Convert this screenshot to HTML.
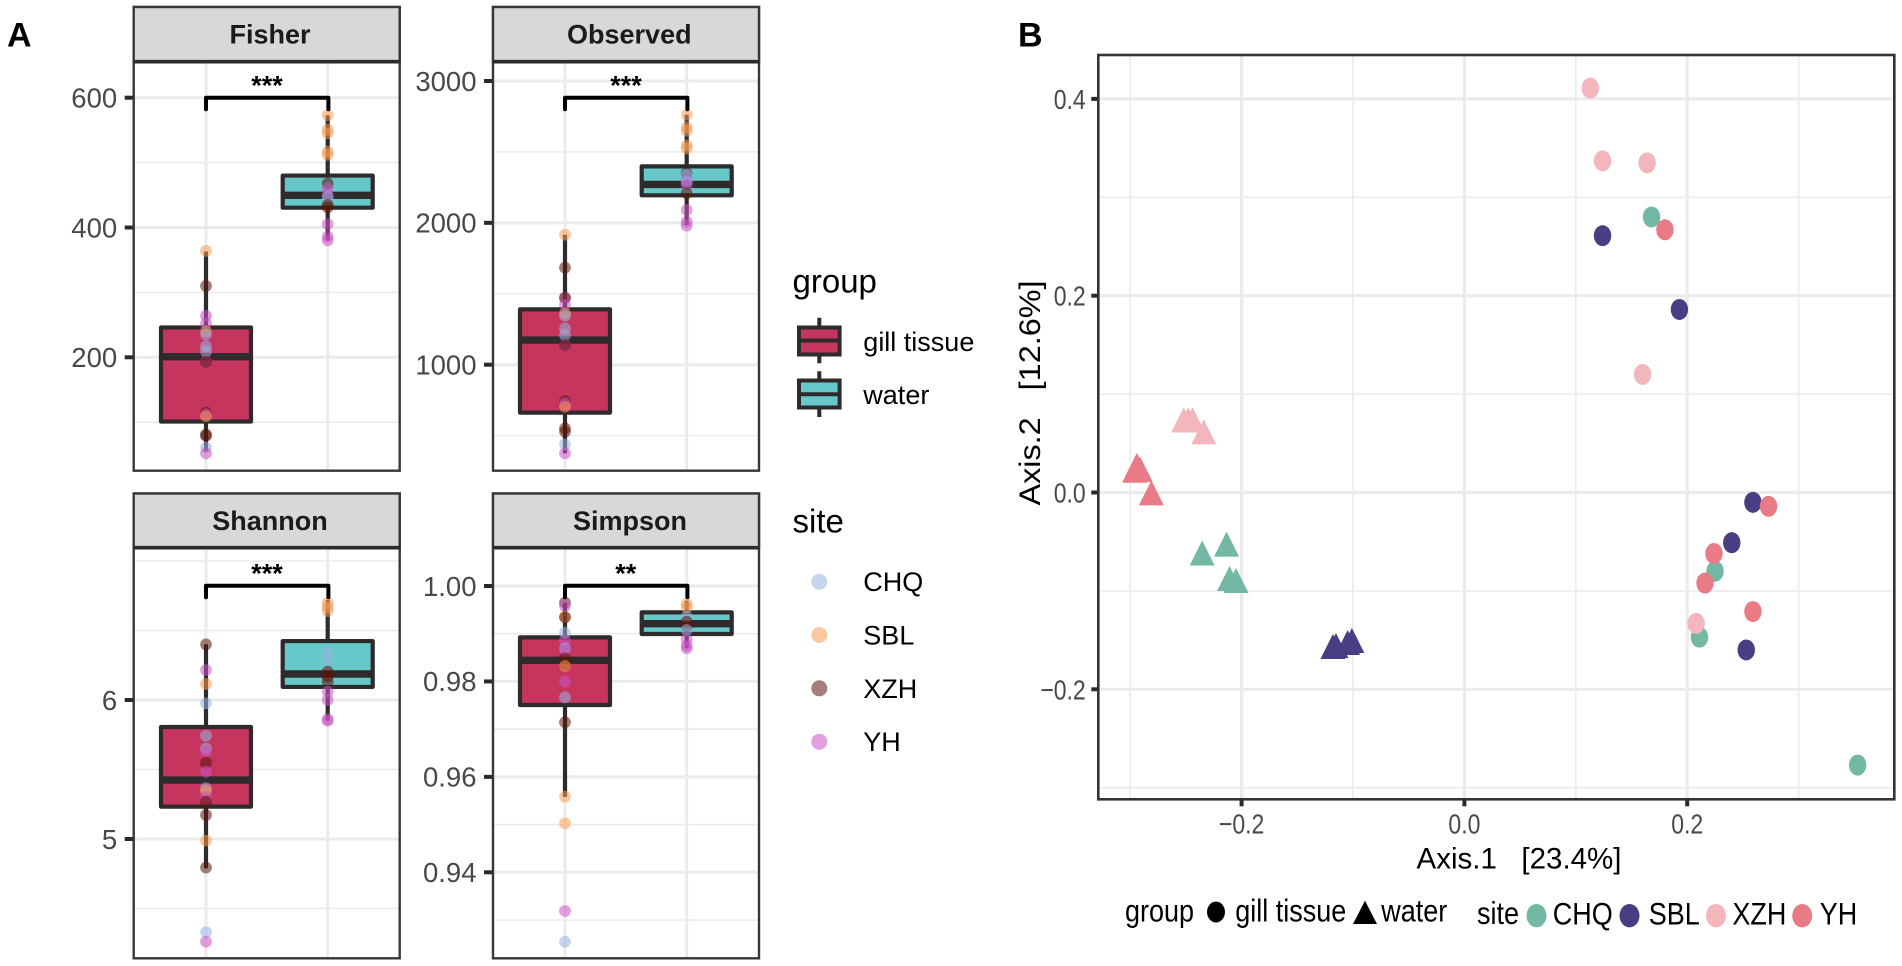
<!DOCTYPE html>
<html lang="en">
<head>
<meta charset="utf-8">
<title>Alpha diversity and PCoA</title>
<style>
html,body{margin:0;padding:0;background:#fff;}
svg{display:block;font-family:"Liberation Sans",sans-serif;}
text{white-space:pre;}
.tick{font-size:27.5px;fill:#4a4747;}
.strip{font-size:27px;font-weight:bold;fill:#1c1a1a;text-anchor:middle;}
.btick{font-size:23px;fill:#4a4747;}
.leg{font-size:27px;fill:#000;}
.ltitle{font-size:33px;fill:#000;}
</style>
</head>
<body>
<svg id="figure" xmlns="http://www.w3.org/2000/svg" width="1902" height="966" viewBox="0 0 1902 966">
  <rect x="0" y="0" width="1902" height="966" fill="#fff"/>
  <text x="7" y="46.7" font-size="34" font-weight="bold" fill="#000">A</text>
  <text x="1018" y="46.7" font-size="34" font-weight="bold" fill="#000">B</text>

  <g id="fisher"></g>
  <g id="observed"></g>
  <g id="shannon"></g>
  <g id="simpson"></g>
  <g id="pcoa"></g>

  <g>
    <text class="ltitle" x="792.5" y="292.7">group</text>
    <g>
      <line x1="819.3" x2="819.3" y1="317.7" y2="363.3" stroke="#2f2a2b" stroke-width="4"/>
      <rect x="799" y="327.5" width="40.6" height="27" fill="#c5355e" stroke="#2f2a2b" stroke-width="4"/>
      <line x1="799" x2="839.6" y1="340.5" y2="340.5" stroke="#2f2a2b" stroke-width="4"/>
    </g>
    <text class="leg" x="863.3" y="351">gill tissue</text>
    <g>
      <line x1="819.3" x2="819.3" y1="371.3" y2="417" stroke="#2f2a2b" stroke-width="4"/>
      <rect x="799" y="380.5" width="40.6" height="27" fill="#66c8c9" stroke="#2f2a2b" stroke-width="4"/>
      <line x1="799" x2="839.6" y1="394.3" y2="394.3" stroke="#2f2a2b" stroke-width="4"/>
    </g>
    <text class="leg" x="863.3" y="404">water</text>
  </g>

  <g>
    <text class="ltitle" x="792.5" y="532.7">site</text>
    <circle cx="819.3" cy="581.7" r="8" fill="#96b3e0" fill-opacity="0.55"/>
    <text class="leg" x="863.3" y="591">CHQ</text>
    <circle cx="819.3" cy="635" r="8" fill="#f89b52" fill-opacity="0.55"/>
    <text class="leg" x="863.3" y="644.5">SBL</text>
    <circle cx="819.3" cy="688.3" r="8" fill="#5b1608" fill-opacity="0.55"/>
    <text class="leg" x="863.3" y="698">XZH</text>
    <circle cx="819.3" cy="741.7" r="8" fill="#ca52c6" fill-opacity="0.55"/>
    <text class="leg" x="863.3" y="751">YH</text>
  </g>

  <text transform="translate(1040,393) rotate(-90) scale(1.08,1)" font-size="30" fill="#000" text-anchor="middle">Axis.2   [12.6%]</text>
  <text x="1519" y="868.3" font-size="29.5" fill="#000" text-anchor="middle">Axis.1   [23.4%]</text>

  <g>
    <text class="leg" transform="translate(1125,921.7) scale(1,1.15)">group</text>
    <ellipse cx="1216" cy="912" rx="9" ry="10.5" fill="#000"/>
    <text class="leg" transform="translate(1235.3,921.7) scale(1,1.15)">gill tissue</text>
    <polygon points="1365,900.7 1377,924 1353,924" fill="#000"/>
    <text class="leg" transform="translate(1381.3,921.7) scale(1,1.15)">water</text>
    <text class="leg" transform="translate(1477,924) scale(1,1.15)">site</text>
    <ellipse cx="1536.5" cy="915.7" rx="10" ry="11.7" fill="#72b8a5"/>
    <text class="leg" transform="translate(1552.8,924.5) scale(1,1.15)">CHQ</text>
    <ellipse cx="1629.5" cy="915.7" rx="10" ry="11.7" fill="#4a3d83"/>
    <text class="leg" transform="translate(1648.7,924.5) scale(1,1.15)">SBL</text>
    <ellipse cx="1716" cy="915.7" rx="10" ry="11.7" fill="#f3b6bd"/>
    <text class="leg" transform="translate(1732.4,924.5) scale(1,1.15)">XZH</text>
    <ellipse cx="1802.2" cy="915.7" rx="10" ry="11.7" fill="#e87b85"/>
    <text class="leg" transform="translate(1819.7,924.5) scale(1,1.15)">YH</text>
  </g>
</svg>

<script>
/* ---------- Fisher ---------- */
const fisherTicks = [200, 400, 600];
const fisherMinor = [100, 300, 500];
const fisherTickLabels = ['200', '400', '600'];
const fisherGillBox = [55, 101, 201, 246, 363];
const fisherWaterBox = [380, 430.5, 449.6, 480, 573];
const fisherGillValues = [364, 310, 264, 252, 240, 235, 217, 209, 194, 193, 115, 112, 109, 81, 79, 61, 52];
const fisherGillSites = ['SBL', 'XZH', 'YH', 'YH', 'SBL', 'CHQ', 'CHQ', 'CHQ', 'YH', 'XZH', 'XZH', 'YH', 'SBL', 'XZH', 'XZH', 'CHQ', 'YH'];
const fisherWaterValues = [573, 551, 545, 517, 512, 468, 460, 450, 447, 435, 431, 405, 386, 380];
const fisherWaterSites = ['SBL', 'SBL', 'SBL', 'SBL', 'SBL', 'XZH', 'YH', 'YH', 'CHQ', 'XZH', 'XZH', 'YH', 'YH', 'YH'];

/* ---------- Observed ---------- */
const observedTicks = [1000, 2000, 3000];
const observedMinor = [500, 1500, 2500];
const observedTickLabels = ['1000', '2000', '3000'];
const observedGillBox = [375, 662, 1174, 1390, 1916];
const observedWaterBox = [1985, 2194, 2271, 2398, 2762];
const observedGillValues = [1916, 1684, 1472, 1472, 1421, 1362, 1345, 1256, 1209, 1139, 1139, 744, 727, 704, 551, 528, 438, 375];
const observedGillSites = ['SBL', 'XZH', 'YH', 'XZH', 'YH', 'SBL', 'CHQ', 'CHQ', 'CHQ', 'YH', 'XZH', 'XZH', 'YH', 'SBL', 'XZH', 'XZH', 'CHQ', 'YH'];
const observedWaterValues = [2763, 2673, 2650, 2546, 2525, 2349, 2337, 2302, 2290, 2267, 2208, 2090, 2008, 1980];
const observedWaterSites = ['SBL', 'SBL', 'SBL', 'SBL', 'SBL', 'XZH', 'CHQ', 'YH', 'CHQ', 'YH', 'XZH', 'YH', 'YH', 'YH'];

/* ---------- Shannon ---------- */
const shannonTicks = [5, 6];
const shannonMinor = [4.5, 5.5, 6.5, 7];
const shannonTickLabels = ['5', '6'];
const shannonGillBox = [4.79, 5.233, 5.424, 5.806, 6.4];
const shannonWaterBox = [5.851, 6.094, 6.187, 6.424, 6.72];
const shannonGillValues = [6.4, 6.216, 6.115, 5.976, 5.743, 5.652, 5.63, 5.549, 5.484, 5.365, 5.345, 5.3, 5.269, 5.173, 4.988, 4.794, 4.329, 4.261];
const shannonGillSites = ['XZH', 'YH', 'SBL', 'CHQ', 'CHQ', 'CHQ', 'YH', 'XZH', 'YH', 'CHQ', 'SBL', 'YH', 'XZH', 'XZH', 'SBL', 'XZH', 'CHQ', 'YH'];
const shannonWaterValues = [6.7, 6.67, 6.64, 6.348, 6.288, 6.204, 6.168, 6.132, 6.06, 6, 5.861, 5.851];
const shannonWaterSites = ['SBL', 'SBL', 'SBL', 'CHQ', 'CHQ', 'XZH', 'XZH', 'XZH', 'YH', 'YH', 'YH', 'YH'];

/* ---------- Simpson ---------- */
const simpsonTicks = [0.94, 0.96, 0.98, 1];
const simpsonMinor = [0.93, 0.95, 0.97, 0.99];
const simpsonTickLabels = ['0.94', '0.96', '0.98', '1.00'];
const simpsonGillBox = [0.9558, 0.97506, 0.98442, 0.98924, 0.9965];
const simpsonWaterBox = [0.98694, 0.98994, 0.99211, 0.99448, 0.9969];
const simpsonGillValues = [0.9965, 0.9958, 0.99357, 0.99343, 0.99022, 0.98854, 0.98694, 0.98659, 0.98484, 0.98358, 0.98323, 0.97995, 0.97667, 0.97143, 0.95585, 0.95026, 0.93189, 0.92546];
const simpsonGillSites = ['XZH', 'YH', 'SBL', 'XZH', 'CHQ', 'YH', 'CHQ', 'YH', 'XZH', 'XZH', 'SBL', 'YH', 'CHQ', 'XZH', 'SBL', 'SBL', 'YH', 'CHQ'];
const simpsonWaterValues = [0.99623, 0.99553, 0.99357, 0.99252, 0.99148, 0.99078, 0.98882, 0.9875, 0.98694];
const simpsonWaterSites = ['SBL', 'SBL', 'CHQ', 'XZH', 'XZH', 'CHQ', 'YH', 'YH', 'YH'];

/* ---------- PCoA ---------- */
const pcoaXTicks = [-0.2, 0, 0.2];
const pcoaXMinor = [-0.3, -0.1, 0.1, 0.3];
const pcoaXTickLabels = ['\u22120.2', '0.0', '0.2'];
const pcoaYTicks = [-0.2, 0, 0.2, 0.4];
const pcoaYMinor = [-0.3, -0.1, 0.1, 0.3];
const pcoaYTickLabels = ['\u22120.2', '0.0', '0.2', '0.4'];
const gillAxis1 = [0.168, 0.225, 0.211, 0.353, 0.124, 0.193, 0.259, 0.24, 0.253, 0.113, 0.124, 0.164, 0.16, 0.208, 0.18, 0.273, 0.224, 0.216, 0.259];
const gillAxis2 = [0.28, -0.08, -0.147, -0.277, 0.261, 0.186, -0.01, -0.051, -0.16, 0.411, 0.337, 0.335, 0.12, -0.133, 0.267, -0.014, -0.062, -0.092, -0.121];
const gillSites = ['CHQ', 'CHQ', 'CHQ', 'CHQ', 'SBL', 'SBL', 'SBL', 'SBL', 'SBL', 'XZH', 'XZH', 'XZH', 'XZH', 'XZH', 'YH', 'YH', 'YH', 'YH', 'YH'];
const waterAxis1 = [-0.2135, -0.2354, -0.2108, -0.205, -0.118, -0.1153, -0.1048, -0.101, -0.252, -0.248, -0.244, -0.234, -0.294, -0.291, -0.296, -0.281];
const waterAxis2 = [-0.056, -0.065, -0.091, -0.093, -0.16, -0.159, -0.156, -0.154, 0.0703, 0.0703, 0.0703, 0.058, 0.024, 0.02, 0.019, -0.004];
const waterSites = ['CHQ', 'CHQ', 'CHQ', 'CHQ', 'SBL', 'SBL', 'SBL', 'SBL', 'XZH', 'XZH', 'XZH', 'XZH', 'YH', 'YH', 'YH', 'YH'];

const NS = 'http://www.w3.org/2000/svg';
const DOT_COLORS = {CHQ: '#96b3e0', SBL: '#f89b52', XZH: '#5b1608', YH: '#ca52c6'};
const PCOA_COLORS = {CHQ: '#72b8a5', SBL: '#4a3d83', XZH: '#f3b6bd', YH: '#e87b85'};
const INK = '#2f2a2b';
const GRID = '#ebebeb';

function linear(d0, r0, d1, r1) {
  return function (v) { return r0 + (v - d0) * (r1 - r0) / (d1 - d0); };
}
function svgEl(tag, attrs) {
  const el = document.createElementNS(NS, tag);
  for (const k in attrs) el.setAttribute(k, attrs[k]);
  return el;
}

function drawFacet(o) {
  const root = document.getElementById(o.id);
  const y = linear(o.d0, o.r0, o.d1, o.r1);
  const bg = svgEl('rect', {x: o.left, y: o.stripBottom, width: o.right - o.left, height: o.bottom - o.stripBottom, fill: '#fff'});
  
  
  root.appendChild(bg);

  o.minor.forEach(function (v) {
    const g = svgEl('line', {x1: o.left, x2: o.right, y1: y(v), y2: y(v), stroke: GRID, 'stroke-width': 1.6});
    
    
    root.appendChild(g);
  });
  o.ticks.forEach(function (v, i) {
    const g = svgEl('line', {x1: o.left, x2: o.right, y1: y(v), y2: y(v), stroke: GRID, 'stroke-width': 3});
    
    
    root.appendChild(g);
    const t = svgEl('line', {x1: o.left - 9, x2: o.left, y1: y(v), y2: y(v), stroke: '#2b2828', 'stroke-width': 4});
    
    
    root.appendChild(t);
    const lab = svgEl('text', {x: o.left - 16.5, y: y(v) + 9.8, 'text-anchor': 'end', class: 'tick'});
    lab.textContent = o.labels[i];
    
    
    root.appendChild(lab);
  });
  [o.x1, o.x2].forEach(function (cx) {
    const g = svgEl('line', {x1: cx, x2: cx, y1: o.stripBottom, y2: o.bottom, stroke: GRID, 'stroke-width': 3});
    
    
    root.appendChild(g);
  });

  function box(stats, cx, fill, nm) {
    const whisk = svgEl('line', {x1: cx, x2: cx, y1: y(stats[0]), y2: y(stats[4]), stroke: INK, 'stroke-width': 4.2});
    
    
    root.appendChild(whisk);
    const r = svgEl('rect', {x: cx - 45, y: y(stats[3]), width: 90, height: y(stats[1]) - y(stats[3]), fill: fill, stroke: INK, 'stroke-width': 4.2, 'stroke-linejoin': 'round'});
    
    
    root.appendChild(r);
    const m = svgEl('line', {x1: cx - 45, x2: cx + 45, y1: y(stats[2]), y2: y(stats[2]), stroke: INK, 'stroke-width': 7.4});
    
    
    root.appendChild(m);
  }
  box(o.gillBox, o.x1, '#c5355e', 'gill-tissue');
  box(o.waterBox, o.x2, '#66c8c9', 'water');

  function dots(values, sites, cx) {
    values.forEach(function (v, i) {
      const c = svgEl('circle', {cx: cx, cy: y(v), r: 5.9, fill: DOT_COLORS[sites[i]], 'fill-opacity': 0.55});
      
      
      root.appendChild(c);
    });
  }
  dots(o.gillValues, o.gillSites, o.x1);
  dots(o.waterValues, o.waterSites, o.x2);

  const frame = svgEl('rect', {x: o.left, y: o.top, width: o.right - o.left, height: o.bottom - o.top, fill: 'none', stroke: '#3a3636', 'stroke-width': 2.4});
  
  
  root.appendChild(frame);
  const strip = svgEl('rect', {x: o.left, y: o.top, width: o.right - o.left, height: o.stripBottom - o.top, fill: '#d8d8da', stroke: '#3a3636', 'stroke-width': 2.4});
  
  
  root.appendChild(strip);
  const sep = svgEl('line', {x1: o.left, x2: o.right, y1: o.stripBottom, y2: o.stripBottom, stroke: '#2f2a2b', 'stroke-width': 3.6});
  
  
  root.appendChild(sep);
  const st = svgEl('text', {x: o.titleX, y: o.top + 36.5, class: 'strip'});
  st.textContent = o.title;
  
  
  root.appendChild(st);

  const br = svgEl('path', {d: 'M' + o.x1 + ' ' + (o.bracketY + 11.5) + 'V' + o.bracketY + 'H' + (o.x2 + 0.7) + 'V' + (o.bracketY + 11.5), fill: 'none', stroke: '#000', 'stroke-width': 4, 'stroke-linejoin': 'round', 'stroke-linecap': 'round'});
  
  
  root.appendChild(br);
  const star = svgEl('text', {x: o.starX, y: o.bracketY - 3, 'text-anchor': 'middle', 'font-size': 27, 'font-weight': 'bold', fill: '#000'});
  star.textContent = o.stars;
  
  
  root.appendChild(star);
}

drawFacet({id: 'fisher', title: 'Fisher', left: 133.7, right: 399.7, top: 7, stripBottom: 61.7, bottom: 470.7, x1: 206, x2: 327.7, titleX: 270, starX: 267, bracketY: 97.7, stars: '***',
  d0: 200, r0: 357.3, d1: 600, r1: 97.7, ticks: fisherTicks, minor: fisherMinor, labels: fisherTickLabels,
  gillBox: fisherGillBox, waterBox: fisherWaterBox, gillValues: fisherGillValues, gillSites: fisherGillSites, waterValues: fisherWaterValues, waterSites: fisherWaterSites});
drawFacet({id: 'observed', title: 'Observed', left: 493, right: 759, top: 7, stripBottom: 61.7, bottom: 470.7, x1: 565, x2: 686.7, titleX: 629.3, starX: 626, bracketY: 97.7, stars: '***',
  d0: 1000, r0: 364.7, d1: 3000, r1: 81, ticks: observedTicks, minor: observedMinor, labels: observedTickLabels,
  gillBox: observedGillBox, waterBox: observedWaterBox, gillValues: observedGillValues, gillSites: observedGillSites, waterValues: observedWaterValues, waterSites: observedWaterSites});
drawFacet({id: 'shannon', title: 'Shannon', left: 133.7, right: 399.7, top: 493.5, stripBottom: 547.7, bottom: 958.3, x1: 206, x2: 327.7, titleX: 270, starX: 267, bracketY: 585.7, stars: '***',
  d0: 5, r0: 839, d1: 6, r1: 700, ticks: shannonTicks, minor: shannonMinor, labels: shannonTickLabels,
  gillBox: shannonGillBox, waterBox: shannonWaterBox, gillValues: shannonGillValues, gillSites: shannonGillSites, waterValues: shannonWaterValues, waterSites: shannonWaterSites});
drawFacet({id: 'simpson', title: 'Simpson', left: 493, right: 759, top: 493.5, stripBottom: 547.7, bottom: 958.3, x1: 565, x2: 686.7, titleX: 630, starX: 625.7, bracketY: 585.7, stars: '**',
  d0: 0.94, r0: 872.3, d1: 1, r1: 586, ticks: simpsonTicks, minor: simpsonMinor, labels: simpsonTickLabels,
  gillBox: simpsonGillBox, waterBox: simpsonWaterBox, gillValues: simpsonGillValues, gillSites: simpsonGillSites, waterValues: simpsonWaterValues, waterSites: simpsonWaterSites});

/* ---------- PCoA drawing ---------- */
(function () {
  const root = document.getElementById('pcoa');
  const L = 1098.3, R = 1894.3, T = 55, B = 799.3;
  const x = linear(0, 1464.4, 0.1, 1575.8);
  const y = linear(0, 492.5, 0.2, 295.7);

  pcoaYMinor.forEach(function (v) {
    const g = svgEl('line', {x1: L, x2: R, y1: y(v), y2: y(v), stroke: GRID, 'stroke-width': 1.6});
    
    
    root.appendChild(g);
  });
  pcoaXMinor.forEach(function (v) {
    const g = svgEl('line', {x1: x(v), x2: x(v), y1: T, y2: B, stroke: GRID, 'stroke-width': 1.6});
    
    
    root.appendChild(g);
  });
  pcoaYTicks.forEach(function (v, i) {
    const g = svgEl('line', {x1: L, x2: R, y1: y(v), y2: y(v), stroke: GRID, 'stroke-width': 3.2});
    
    
    root.appendChild(g);
    const t = svgEl('line', {x1: L - 7, x2: L, y1: y(v), y2: y(v), stroke: '#2b2828', 'stroke-width': 4});
    
    
    root.appendChild(t);
    const lab = svgEl('text', {transform: 'translate(' + (L - 12.6) + ',' + (y(v) + 10) + ') scale(1,1.22)', 'text-anchor': 'end', class: 'btick'});
    lab.textContent = pcoaYTickLabels[i];
    
    
    root.appendChild(lab);
  });
  pcoaXTicks.forEach(function (v, i) {
    const g = svgEl('line', {x1: x(v), x2: x(v), y1: T, y2: B, stroke: GRID, 'stroke-width': 3.2});
    
    
    root.appendChild(g);
    const t = svgEl('line', {x1: x(v), x2: x(v), y1: B, y2: B + 7, stroke: '#2b2828', 'stroke-width': 4});
    
    
    root.appendChild(t);
    const lab = svgEl('text', {transform: 'translate(' + x(v) + ',833.3) scale(1,1.22)', 'text-anchor': 'middle', class: 'btick'});
    lab.textContent = pcoaXTickLabels[i];
    
    
    root.appendChild(lab);
  });

  gillAxis1.forEach(function (v, i) {
    const e = svgEl('ellipse', {cx: x(v), cy: y(gillAxis2[i]), rx: 8.7, ry: 10.5, fill: PCOA_COLORS[gillSites[i]]});
    
    
    root.appendChild(e);
  });
  waterAxis1.forEach(function (v, i) {
    const cx = x(v), cy = y(waterAxis2[i]);
    const p = svgEl('polygon', {points: cx + ',' + (cy - 16) + ' ' + (cx + 12.5) + ',' + (cy + 9) + ' ' + (cx - 12.5) + ',' + (cy + 9), fill: PCOA_COLORS[waterSites[i]]});
    
    
    root.appendChild(p);
  });

  const frame = svgEl('rect', {x: L, y: T, width: R - L, height: B - T, fill: 'none', stroke: '#333', 'stroke-width': 2.6});
  
  
  root.appendChild(frame);
})();
</script>
</body>
</html>
